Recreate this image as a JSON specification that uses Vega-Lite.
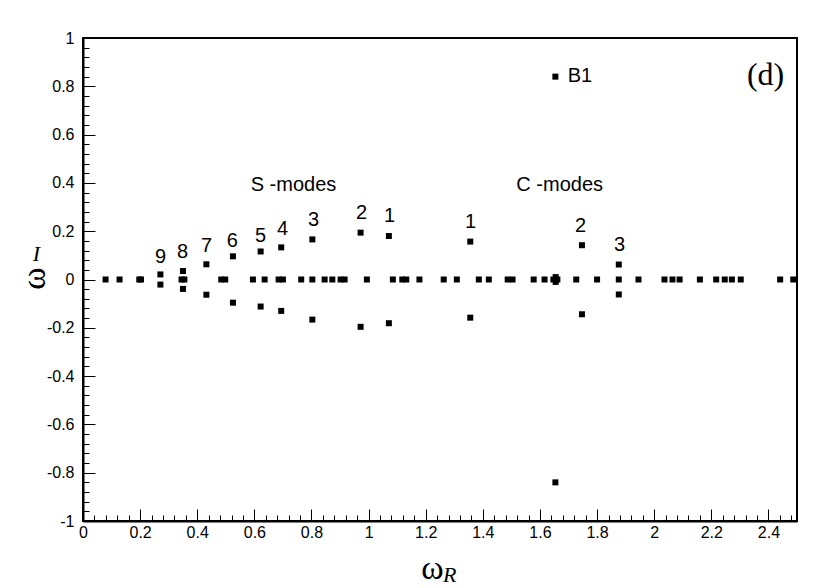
{
  "$schema": "https://vega.github.io/schema/vega-lite/v6.json",
  "autosize": "none",
  "padding": {"left": 83, "top": 38, "right": 33, "bottom": 67},
  "width": 714,
  "height": 483,
  "background": "white",
  "config": {
    "view": {"stroke": "black", "strokeWidth": 2},
    "font": "Liberation Sans"
  },
  "datasets": {
    "pts": [
      {"wr": 0.079, "wi": 0}, {"wr": 0.128, "wi": 0}, {"wr": 0.197, "wi": 0}, {"wr": 0.203, "wi": 0},
      {"wr": 0.271, "wi": 0.021}, {"wr": 0.271, "wi": -0.021},
      {"wr": 0.345, "wi": 0}, {"wr": 0.355, "wi": 0}, {"wr": 0.350, "wi": 0.035}, {"wr": 0.350, "wi": -0.039},
      {"wr": 0.432, "wi": 0.063}, {"wr": 0.432, "wi": -0.063},
      {"wr": 0.484, "wi": 0}, {"wr": 0.498, "wi": 0},
      {"wr": 0.525, "wi": 0.096}, {"wr": 0.525, "wi": -0.096},
      {"wr": 0.595, "wi": 0},
      {"wr": 0.622, "wi": 0.116}, {"wr": 0.622, "wi": -0.112},
      {"wr": 0.636, "wi": 0},
      {"wr": 0.685, "wi": 0}, {"wr": 0.700, "wi": 0},
      {"wr": 0.694, "wi": 0.133}, {"wr": 0.694, "wi": -0.130},
      {"wr": 0.764, "wi": 0},
      {"wr": 0.803, "wi": 0}, {"wr": 0.803, "wi": 0.166}, {"wr": 0.803, "wi": -0.166},
      {"wr": 0.846, "wi": 0}, {"wr": 0.873, "wi": 0}, {"wr": 0.902, "wi": 0}, {"wr": 0.916, "wi": 0},
      {"wr": 0.972, "wi": 0.194}, {"wr": 0.972, "wi": -0.196},
      {"wr": 0.994, "wi": 0},
      {"wr": 1.071, "wi": 0.180}, {"wr": 1.071, "wi": -0.181},
      {"wr": 1.085, "wi": 0}, {"wr": 1.118, "wi": 0}, {"wr": 1.132, "wi": 0}, {"wr": 1.178, "wi": 0},
      {"wr": 1.263, "wi": 0}, {"wr": 1.309, "wi": 0},
      {"wr": 1.356, "wi": 0.157}, {"wr": 1.356, "wi": -0.158},
      {"wr": 1.386, "wi": 0}, {"wr": 1.421, "wi": 0},
      {"wr": 1.487, "wi": 0}, {"wr": 1.504, "wi": 0},
      {"wr": 1.578, "wi": 0}, {"wr": 1.616, "wi": 0},
      {"wr": 1.647, "wi": 0}, {"wr": 1.655, "wi": 0.01}, {"wr": 1.655, "wi": -0.01}, {"wr": 1.661, "wi": 0},
      {"wr": 1.654, "wi": 0.84}, {"wr": 1.654, "wi": -0.84},
      {"wr": 1.727, "wi": 0},
      {"wr": 1.747, "wi": 0.142}, {"wr": 1.747, "wi": -0.144},
      {"wr": 1.800, "wi": 0},
      {"wr": 1.876, "wi": 0}, {"wr": 1.876, "wi": 0.062}, {"wr": 1.876, "wi": -0.062},
      {"wr": 1.945, "wi": 0},
      {"wr": 2.036, "wi": 0}, {"wr": 2.064, "wi": 0}, {"wr": 2.089, "wi": 0},
      {"wr": 2.160, "wi": 0}, {"wr": 2.217, "wi": 0}, {"wr": 2.247, "wi": 0}, {"wr": 2.272, "wi": 0},
      {"wr": 2.303, "wi": 0}, {"wr": 2.441, "wi": 0}, {"wr": 2.487, "wi": 0}
    ],
    "labels": [
      {"wr": 0.272, "wi": 0.092, "t": "9"},
      {"wr": 0.349, "wi": 0.113, "t": "8"},
      {"wr": 0.433, "wi": 0.138, "t": "7"},
      {"wr": 0.523, "wi": 0.159, "t": "6"},
      {"wr": 0.622, "wi": 0.179, "t": "5"},
      {"wr": 0.699, "wi": 0.208, "t": "4"},
      {"wr": 0.807, "wi": 0.246, "t": "3"},
      {"wr": 0.975, "wi": 0.275, "t": "2"},
      {"wr": 1.073, "wi": 0.262, "t": "1"},
      {"wr": 1.357, "wi": 0.237, "t": "1"},
      {"wr": 1.742, "wi": 0.221, "t": "2"},
      {"wr": 1.879, "wi": 0.142, "t": "3"},
      {"wr": 0.737, "wi": 0.39, "t": "S -modes"},
      {"wr": 1.669, "wi": 0.39, "t": "C -modes"}
    ],
    "b1": [{"wr": 1.697, "wi": 0.841, "t": "B1"}],
    "panel": [{"wr": 2.39, "wi": 0.845, "t": "(d)"}],
    "subs": [
      {"wr": 1.284, "wi": -1.224, "t": "R"},
      {"wr": -0.163, "wi": 0.105, "t": "I"}
    ]
  },
  "resolve": {"axis": {"x": "independent", "y": "independent"}},
  "layer": [
    {
      "data": {"name": "pts"},
      "mark": {"type": "point", "shape": "square", "filled": true, "color": "black", "size": 36, "opacity": 1},
      "encoding": {
        "x": {
          "field": "wr", "type": "quantitative",
          "scale": {"domain": [0, 2.5], "nice": false, "zero": false},
          "axis": {
            "orient": "bottom",
            "title": "ω",
            "titleFont": "Liberation Serif", "titleFontSize": 34, "titleFontWeight": "normal",
            "titleX": 349, "titleY": 57, "titleAlign": "center", "titleBaseline": "alphabetic",
            "values": [0, 0.2, 0.4, 0.6, 0.8, 1, 1.2, 1.4, 1.6, 1.8, 2, 2.2, 2.4],
            "labelExpr": "replace(format(datum.value, '.1~f'), '−', '-')",
            "labelFont": "Liberation Sans", "labelFontSize": 16, "labelColor": "black",
            "labelPadding": 15, "labelFlush": false, "labelOverlap": false,
            "tickSize": -12, "tickColor": "black", "tickWidth": 1,
            "domainColor": "black", "domainWidth": 2,
            "grid": false
          }
        },
        "y": {
          "field": "wi", "type": "quantitative",
          "scale": {"domain": [-1, 1], "nice": false, "zero": false},
          "axis": {
            "orient": "left",
            "title": "ω",
            "titleFont": "Liberation Serif", "titleFontSize": 34, "titleFontWeight": "normal",
            "titleX": -39, "titleY": 240, "titleAngle": 270, "titleAlign": "center", "titleBaseline": "alphabetic",
            "values": [-1, -0.8, -0.6, -0.4, -0.2, 0, 0.2, 0.4, 0.6, 0.8, 1],
            "labelExpr": "replace(format(datum.value, '.1~f'), '−', '-')",
            "labelFont": "Liberation Sans", "labelFontSize": 16, "labelColor": "black",
            "labelPadding": 21, "labelFlush": false, "labelOverlap": false,
            "tickSize": -12, "tickColor": "black", "tickWidth": 1,
            "domainColor": "black", "domainWidth": 2,
            "grid": false
          }
        }
      }
    },
    {
      "data": {"name": "panel"},
      "mark": {"type": "text", "font": "Liberation Serif", "fontSize": 32, "color": "black", "align": "center", "baseline": "middle"},
      "encoding": {
        "text": {"field": "t"},
        "x": {
          "field": "wr", "type": "quantitative",
          "scale": {"domain": [0, 2.5], "nice": false, "zero": false},
          "axis": {
            "orient": "bottom", "title": null, "labels": false, "domain": false, "grid": false,
            "values": [0.04,0.08,0.12,0.16,0.24,0.28,0.32,0.36,0.44,0.48,0.52,0.56,0.64,0.68,0.72,0.76,0.84,0.88,0.92,0.96,1.04,1.08,1.12,1.16,1.24,1.28,1.32,1.36,1.44,1.48,1.52,1.56,1.64,1.68,1.72,1.76,1.84,1.88,1.92,1.96,2.04,2.08,2.12,2.16,2.24,2.28,2.32,2.36,2.44,2.48],
            "tickSize": -6, "tickColor": "black", "tickWidth": 1
          }
        },
        "y": {
          "field": "wi", "type": "quantitative",
          "scale": {"domain": [-1, 1], "nice": false, "zero": false},
          "axis": {
            "orient": "left", "title": null, "labels": false, "domain": false, "grid": false,
            "values": [-0.96,-0.92,-0.88,-0.84,-0.76,-0.72,-0.68,-0.64,-0.56,-0.52,-0.48,-0.44,-0.36,-0.32,-0.28,-0.24,-0.16,-0.12,-0.08,-0.04,0.04,0.08,0.12,0.16,0.24,0.28,0.32,0.36,0.44,0.48,0.52,0.56,0.64,0.68,0.72,0.76,0.84,0.88,0.92,0.96],
            "tickSize": -6, "tickColor": "black", "tickWidth": 1
          }
        }
      }
    },
    {
      "data": {"name": "labels"},
      "mark": {"type": "text", "font": "Liberation Sans", "fontSize": 20, "color": "black", "align": "center", "baseline": "middle"},
      "encoding": {
        "text": {"field": "t"},
        "x": {"field": "wr", "type": "quantitative", "scale": {"domain": [0, 2.5], "nice": false, "zero": false}, "axis": null},
        "y": {"field": "wi", "type": "quantitative", "scale": {"domain": [-1, 1], "nice": false, "zero": false}, "axis": null}
      }
    },
    {
      "data": {"name": "b1"},
      "mark": {"type": "text", "font": "Liberation Sans", "fontSize": 20, "color": "black", "align": "left", "baseline": "middle"},
      "encoding": {
        "text": {"field": "t"},
        "x": {"field": "wr", "type": "quantitative", "scale": {"domain": [0, 2.5], "nice": false, "zero": false}, "axis": null},
        "y": {"field": "wi", "type": "quantitative", "scale": {"domain": [-1, 1], "nice": false, "zero": false}, "axis": null}
      }
    },
    {
      "data": {"name": "subs"},
      "mark": {"type": "text", "font": "Liberation Serif", "fontStyle": "italic", "fontSize": 22, "color": "black", "align": "center", "baseline": "middle"},
      "encoding": {
        "text": {"field": "t"},
        "x": {"field": "wr", "type": "quantitative", "scale": {"domain": [0, 2.5], "nice": false, "zero": false}, "axis": null},
        "y": {"field": "wi", "type": "quantitative", "scale": {"domain": [-1, 1], "nice": false, "zero": false}, "axis": null}
      }
    }
  ]
}
